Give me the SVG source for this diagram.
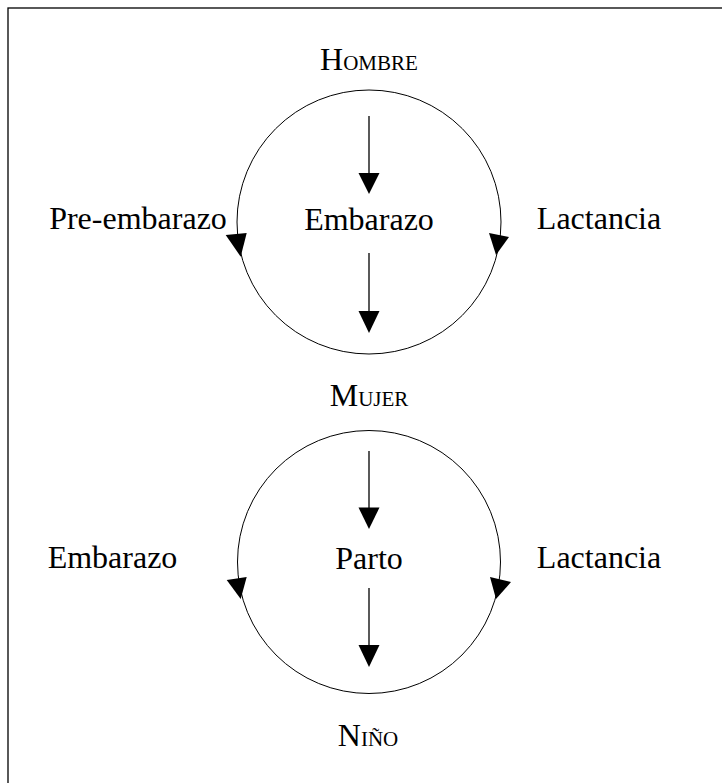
<svg xmlns="http://www.w3.org/2000/svg" width="722" height="783" viewBox="0 0 722 783">
<style>
text{font-family:"Liberation Serif","Times New Roman",serif;font-size:32px;fill:#000;text-anchor:middle}
.sc{font-size:21px}
.ring{fill:none;stroke:#000;stroke-width:1}
.shaft{stroke:#000;stroke-width:1.3}
.head{fill:#000;stroke:none}
</style>
<rect x="0" y="0" width="722" height="783" fill="#fff"/>
<rect x="8" y="8" width="730" height="790" fill="none" stroke="#000" stroke-width="1.3"/>
<g id="connectors">
<circle class="ring" cx="369" cy="222" r="132"/>
<circle class="ring" cx="369" cy="562" r="131.5"/>
<line class="shaft" x1="369" y1="116" x2="369" y2="175"/>
<polygon class="head" points="369,194 358.5,173 379.5,173"/>
<line class="shaft" x1="369" y1="253" x2="369" y2="312"/>
<polygon class="head" points="369,333 358.5,311 379.5,311"/>
<line class="shaft" x1="369" y1="451" x2="369" y2="509"/>
<polygon class="head" points="369,529 358.5,507.5 379.5,507.5"/>
<line class="shaft" x1="369" y1="588" x2="369" y2="646"/>
<polygon class="head" points="369,667 358.5,645 379.5,645"/>
<polygon class="head" points="240.7,256.7 225.7,235 246.7,233"/>
<polygon class="head" points="496,255 489,233 509,237"/>
<polygon class="head" points="240.7,599 226.7,580 246.7,577"/>
<polygon class="head" points="496,599 490,577 511,582"/>
</g>
<g id="hombre"><text x="369" y="70">H<tspan class="sc">OMBRE</tspan></text></g>
<g id="pre-embarazo"><text x="138" y="229">Pre-embarazo</text></g>
<g id="embarazo-top"><text x="369" y="230">Embarazo</text></g>
<g id="lactancia-top"><text x="599" y="229">Lactancia</text></g>
<g id="mujer"><text x="369" y="406">M<tspan class="sc">UJER</tspan></text></g>
<g id="embarazo-bottom"><text x="112.5" y="568">Embarazo</text></g>
<g id="parto"><text x="369" y="569">Parto</text></g>
<g id="lactancia-bottom"><text x="599" y="568">Lactancia</text></g>
<g id="nino"><text x="368" y="746">N<tspan class="sc">IÑO</tspan></text></g>
</svg>
